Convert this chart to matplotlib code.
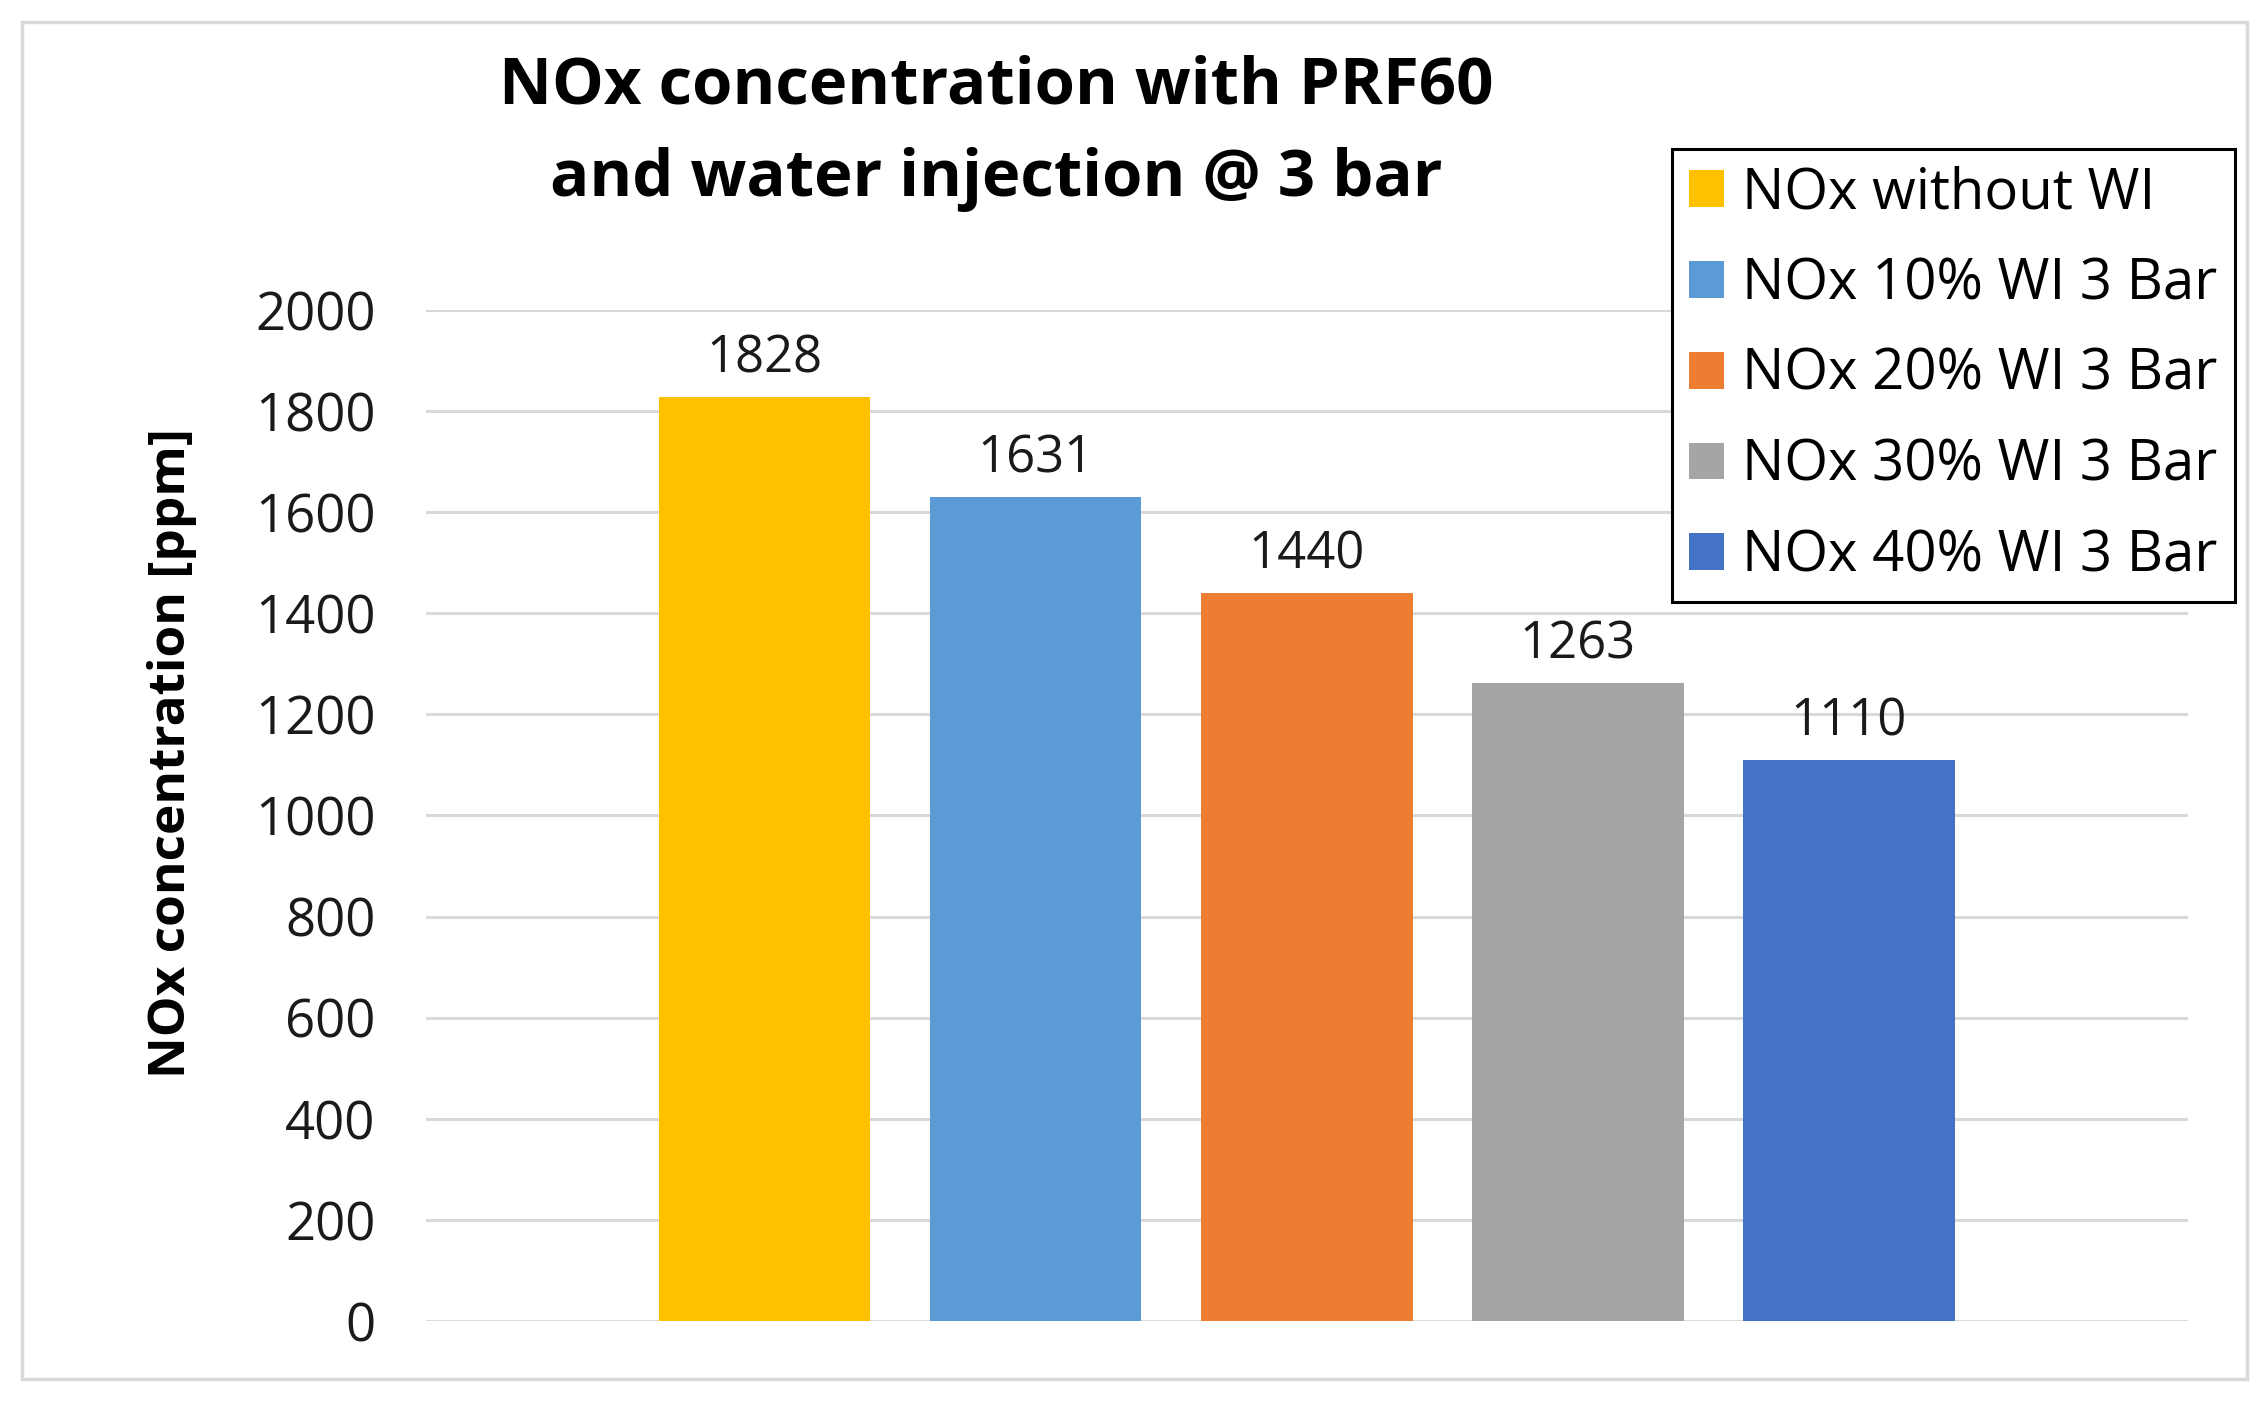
import matplotlib.pyplot as plt
from matplotlib.patches import Rectangle

# Data
series = ['NOx without WI', 'NOx 10% WI 3 Bar', 'NOx 20% WI 3 Bar',
          'NOx 30% WI 3 Bar', 'NOx 40% WI 3 Bar']
values = [1828, 1631, 1440, 1263, 1110]
colors = ['#FFC000', '#5B9BD5', '#ED7D31', '#A5A5A5', '#4472C4']
yticks = list(range(0, 2001, 200))

plt.rcParams['font.family'] = ['Open Sans', 'DejaVu Sans']

fig = plt.figure(figsize=(22.64, 14.02), dpi=100, facecolor='white')
ax = fig.add_axes([0.188, 0.0578, 0.7784, 0.7211])

# Light grey border round the whole chart
fig.patches.append(Rectangle((0.0097, 0.0164), 0.9828, 0.9679,
                             transform=fig.transFigure, fill=False,
                             edgecolor='#D9D9D9', linewidth=2.5))

x = list(range(len(values)))
bars = ax.bar(x, values, width=0.78, color=colors, zorder=3)
for b, lab in zip(bars, series):
    b.set_label(lab)
ax.bar_label(bars, labels=[str(v) for v in values], padding=9,
             fontsize=36.5, color='#1a1a1a')

ax.set_xlim(-1.25, 5.25)
ax.set_ylim(0, 2000)
ax.set_yticks(yticks)
ax.set_xticks([])
ax.tick_params(axis='y', length=0, pad=36, labelsize=38, labelcolor='#1a1a1a')
ax.grid(axis='y', color='#D9D9D9', linewidth=2.2, zorder=0)
for s in ax.spines.values():
    s.set_visible(False)

fig.text(0.44, 0.905, 'NOx concentration with PRF60\nand water injection @ 3 bar',
         ha='center', va='center', fontsize=47, fontweight='bold',
         linespacing=1.55, color='black')
fig.text(0.076, 0.463, 'NOx concentration [ppm]', rotation=90,
         ha='center', va='center', fontsize=37, fontweight='bold', color='black')

leg = fig.legend(handles=bars, labels=series, loc='upper left',
                 bbox_to_anchor=(0.7385, 0.894), borderaxespad=0, fontsize=40.5,
                 handlelength=0.63, handleheight=0.63, handletextpad=0.32,
                 labelspacing=0.6, borderpad=0.3, fancybox=False,
                 framealpha=1, edgecolor='black')
leg.get_frame().set_linewidth(2.2)

fig.savefig('out.png', dpi=100, facecolor='white')
